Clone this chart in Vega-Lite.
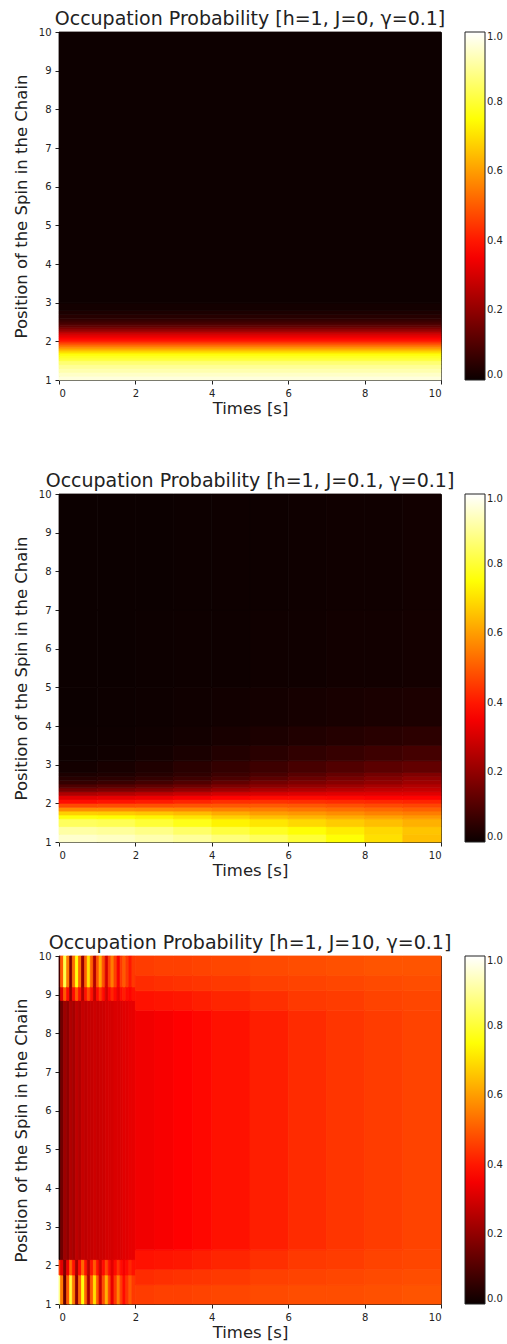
{
  "$schema": "https://vega.github.io/schema/vega-lite/v6.json",
  "background": "white",
  "padding": {"left": 12, "top": 9, "right": 0, "bottom": 0},
  "spacing": 114,
  "bounds": "flush",
  "config": {
    "font": "DejaVu Sans",
    "view": {"stroke": "#222", "strokeWidth": 1},
    "axis": {"grid": false, "domain": false, "tickColor": "#222", "tickSize": 4, "labelColor": "#222", "labelFontSize": 10, "labelPadding": 4, "titleFontSize": 16.5, "titleFontWeight": "normal", "titleColor": "#222"},
    "axisY": {"titlePadding": 9},
    "axisX": {"titlePadding": 2},
    "title": {"fontSize": 19, "fontWeight": "normal", "color": "#222", "frame": "group", "anchor": "middle", "baseline": "alphabetic", "offset": -2},
    "legend": {"orient": "none", "legendX": 406, "legendY": 0, "direction": "vertical", "gradientLength": 348, "gradientThickness": 20, "labelFontSize": 10, "labelOffset": 6, "labelColor": "#222", "labelFlush": false, "gradientStrokeColor": "#222", "gradientStrokeWidth": 1, "padding": 0, "labelOverlap": false}
  },
  "datasets": {
    "a": [
      {"t":0,"u":10,"y":1,"z":1.1,"v":0.965},
      {"t":0,"u":10,"y":1.1,"z":1.2,"v":0.945},
      {"t":0,"u":10,"y":1.2,"z":1.3,"v":0.92},
      {"t":0,"u":10,"y":1.3,"z":1.4,"v":0.895},
      {"t":0,"u":10,"y":1.4,"z":1.5,"v":0.86},
      {"t":0,"u":10,"y":1.5,"z":1.55,"v":0.81},
      {"t":0,"u":10,"y":1.55,"z":1.6,"v":0.79},
      {"t":0,"u":10,"y":1.6,"z":1.65,"v":0.77},
      {"t":0,"u":10,"y":1.65,"z":1.7,"v":0.74},
      {"t":0,"u":10,"y":1.7,"z":1.75,"v":0.7},
      {"t":0,"u":10,"y":1.75,"z":1.8,"v":0.65},
      {"t":0,"u":10,"y":1.8,"z":1.85,"v":0.6},
      {"t":0,"u":10,"y":1.85,"z":1.9,"v":0.55},
      {"t":0,"u":10,"y":1.9,"z":1.95,"v":0.5},
      {"t":0,"u":10,"y":1.95,"z":2.0,"v":0.45},
      {"t":0,"u":10,"y":2.0,"z":2.05,"v":0.4},
      {"t":0,"u":10,"y":2.05,"z":2.1,"v":0.37},
      {"t":0,"u":10,"y":2.1,"z":2.15,"v":0.34},
      {"t":0,"u":10,"y":2.15,"z":2.2,"v":0.31},
      {"t":0,"u":10,"y":2.2,"z":2.25,"v":0.27},
      {"t":0,"u":10,"y":2.25,"z":2.3,"v":0.22},
      {"t":0,"u":10,"y":2.3,"z":2.35,"v":0.18},
      {"t":0,"u":10,"y":2.35,"z":2.4,"v":0.14},
      {"t":0,"u":10,"y":2.4,"z":2.45,"v":0.11},
      {"t":0,"u":10,"y":2.45,"z":2.5,"v":0.09},
      {"t":0,"u":10,"y":2.5,"z":2.55,"v":0.07},
      {"t":0,"u":10,"y":2.55,"z":2.6,"v":0.055},
      {"t":0,"u":10,"y":2.6,"z":2.7,"v":0.04},
      {"t":0,"u":10,"y":2.7,"z":2.8,"v":0.025},
      {"t":0,"u":10,"y":2.8,"z":3.0,"v":0.012},
      {"t":0,"u":10,"y":3.0,"z":10,"v":0.003}
    ],
    "b": [
      {"t":0,"u":1,"y":1,"z":1.2,"v":0.95},{"t":1,"u":2,"y":1,"z":1.2,"v":0.94},{"t":2,"u":3,"y":1,"z":1.2,"v":0.92},{"t":3,"u":4,"y":1,"z":1.2,"v":0.9},{"t":4,"u":5,"y":1,"z":1.2,"v":0.87},{"t":5,"u":6,"y":1,"z":1.2,"v":0.84},{"t":6,"u":7,"y":1,"z":1.2,"v":0.8},{"t":7,"u":8,"y":1,"z":1.2,"v":0.75},{"t":8,"u":9,"y":1,"z":1.2,"v":0.7},{"t":9,"u":10,"y":1,"z":1.2,"v":0.65},
      {"t":0,"u":1,"y":1.2,"z":1.4,"v":0.91},{"t":1,"u":2,"y":1.2,"z":1.4,"v":0.9},{"t":2,"u":3,"y":1.2,"z":1.4,"v":0.88},{"t":3,"u":4,"y":1.2,"z":1.4,"v":0.85},{"t":4,"u":5,"y":1.2,"z":1.4,"v":0.81},{"t":5,"u":6,"y":1.2,"z":1.4,"v":0.78},{"t":6,"u":7,"y":1.2,"z":1.4,"v":0.75},{"t":7,"u":8,"y":1.2,"z":1.4,"v":0.72},{"t":8,"u":9,"y":1.2,"z":1.4,"v":0.69},{"t":9,"u":10,"y":1.2,"z":1.4,"v":0.66},
      {"t":0,"u":1,"y":1.4,"z":1.6,"v":0.84},{"t":1,"u":2,"y":1.4,"z":1.6,"v":0.83},{"t":2,"u":3,"y":1.4,"z":1.6,"v":0.8},{"t":3,"u":4,"y":1.4,"z":1.6,"v":0.77},{"t":4,"u":5,"y":1.4,"z":1.6,"v":0.73},{"t":5,"u":6,"y":1.4,"z":1.6,"v":0.71},{"t":6,"u":7,"y":1.4,"z":1.6,"v":0.69},{"t":7,"u":8,"y":1.4,"z":1.6,"v":0.67},{"t":8,"u":9,"y":1.4,"z":1.6,"v":0.65},{"t":9,"u":10,"y":1.4,"z":1.6,"v":0.63},
      {"t":0,"u":1,"y":1.6,"z":1.7,"v":0.755},{"t":1,"u":2,"y":1.6,"z":1.7,"v":0.745},{"t":2,"u":3,"y":1.6,"z":1.7,"v":0.73},{"t":3,"u":4,"y":1.6,"z":1.7,"v":0.705},{"t":4,"u":5,"y":1.6,"z":1.7,"v":0.675},{"t":5,"u":6,"y":1.6,"z":1.7,"v":0.65},{"t":6,"u":7,"y":1.6,"z":1.7,"v":0.635},{"t":7,"u":8,"y":1.6,"z":1.7,"v":0.62},{"t":8,"u":9,"y":1.6,"z":1.7,"v":0.605},{"t":9,"u":10,"y":1.6,"z":1.7,"v":0.59},
      {"t":0,"u":1,"y":1.7,"z":1.8,"v":0.675},{"t":1,"u":2,"y":1.7,"z":1.8,"v":0.67},{"t":2,"u":3,"y":1.7,"z":1.8,"v":0.66},{"t":3,"u":4,"y":1.7,"z":1.8,"v":0.645},{"t":4,"u":5,"y":1.7,"z":1.8,"v":0.62},{"t":5,"u":6,"y":1.7,"z":1.8,"v":0.6},{"t":6,"u":7,"y":1.7,"z":1.8,"v":0.59},{"t":7,"u":8,"y":1.7,"z":1.8,"v":0.575},{"t":8,"u":9,"y":1.7,"z":1.8,"v":0.56},{"t":9,"u":10,"y":1.7,"z":1.8,"v":0.55},
      {"t":0,"u":1,"y":1.8,"z":1.9,"v":0.575},{"t":1,"u":2,"y":1.8,"z":1.9,"v":0.575},{"t":2,"u":3,"y":1.8,"z":1.9,"v":0.57},{"t":3,"u":4,"y":1.8,"z":1.9,"v":0.565},{"t":4,"u":5,"y":1.8,"z":1.9,"v":0.555},{"t":5,"u":6,"y":1.8,"z":1.9,"v":0.55},{"t":6,"u":7,"y":1.8,"z":1.9,"v":0.54},{"t":7,"u":8,"y":1.8,"z":1.9,"v":0.53},{"t":8,"u":9,"y":1.8,"z":1.9,"v":0.52},{"t":9,"u":10,"y":1.8,"z":1.9,"v":0.51},
      {"t":0,"u":1,"y":1.9,"z":2.0,"v":0.475},{"t":1,"u":2,"y":1.9,"z":2.0,"v":0.48},{"t":2,"u":3,"y":1.9,"z":2.0,"v":0.485},{"t":3,"u":4,"y":1.9,"z":2.0,"v":0.49},{"t":4,"u":5,"y":1.9,"z":2.0,"v":0.495},{"t":5,"u":6,"y":1.9,"z":2.0,"v":0.5},{"t":6,"u":7,"y":1.9,"z":2.0,"v":0.495},{"t":7,"u":8,"y":1.9,"z":2.0,"v":0.485},{"t":8,"u":9,"y":1.9,"z":2.0,"v":0.475},{"t":9,"u":10,"y":1.9,"z":2.0,"v":0.47},
      {"t":0,"u":1,"y":2.0,"z":2.1,"v":0.385},{"t":1,"u":2,"y":2.0,"z":2.1,"v":0.395},{"t":2,"u":3,"y":2.0,"z":2.1,"v":0.405},{"t":3,"u":4,"y":2.0,"z":2.1,"v":0.42},{"t":4,"u":5,"y":2.0,"z":2.1,"v":0.435},{"t":5,"u":6,"y":2.0,"z":2.1,"v":0.44},{"t":6,"u":7,"y":2.0,"z":2.1,"v":0.435},{"t":7,"u":8,"y":2.0,"z":2.1,"v":0.43},{"t":8,"u":9,"y":2.0,"z":2.1,"v":0.425},{"t":9,"u":10,"y":2.0,"z":2.1,"v":0.42},
      {"t":0,"u":1,"y":2.1,"z":2.2,"v":0.325},{"t":1,"u":2,"y":2.1,"z":2.2,"v":0.33},{"t":2,"u":3,"y":2.1,"z":2.2,"v":0.34},{"t":3,"u":4,"y":2.1,"z":2.2,"v":0.355},{"t":4,"u":5,"y":2.1,"z":2.2,"v":0.37},{"t":5,"u":6,"y":2.1,"z":2.2,"v":0.38},{"t":6,"u":7,"y":2.1,"z":2.2,"v":0.38},{"t":7,"u":8,"y":2.1,"z":2.2,"v":0.375},{"t":8,"u":9,"y":2.1,"z":2.2,"v":0.37},{"t":9,"u":10,"y":2.1,"z":2.2,"v":0.37},
      {"t":0,"u":1,"y":2.2,"z":2.3,"v":0.245},{"t":1,"u":2,"y":2.2,"z":2.3,"v":0.255},{"t":2,"u":3,"y":2.2,"z":2.3,"v":0.27},{"t":3,"u":4,"y":2.2,"z":2.3,"v":0.285},{"t":4,"u":5,"y":2.2,"z":2.3,"v":0.3},{"t":5,"u":6,"y":2.2,"z":2.3,"v":0.31},{"t":6,"u":7,"y":2.2,"z":2.3,"v":0.315},{"t":7,"u":8,"y":2.2,"z":2.3,"v":0.32},{"t":8,"u":9,"y":2.2,"z":2.3,"v":0.32},{"t":9,"u":10,"y":2.2,"z":2.3,"v":0.32},
      {"t":0,"u":1,"y":2.3,"z":2.4,"v":0.16},{"t":1,"u":2,"y":2.3,"z":2.4,"v":0.17},{"t":2,"u":3,"y":2.3,"z":2.4,"v":0.185},{"t":3,"u":4,"y":2.3,"z":2.4,"v":0.205},{"t":4,"u":5,"y":2.3,"z":2.4,"v":0.225},{"t":5,"u":6,"y":2.3,"z":2.4,"v":0.245},{"t":6,"u":7,"y":2.3,"z":2.4,"v":0.255},{"t":7,"u":8,"y":2.3,"z":2.4,"v":0.265},{"t":8,"u":9,"y":2.3,"z":2.4,"v":0.275},{"t":9,"u":10,"y":2.3,"z":2.4,"v":0.28},
      {"t":0,"u":1,"y":2.4,"z":2.5,"v":0.1},{"t":1,"u":2,"y":2.4,"z":2.5,"v":0.11},{"t":2,"u":3,"y":2.4,"z":2.5,"v":0.125},{"t":3,"u":4,"y":2.4,"z":2.5,"v":0.145},{"t":4,"u":5,"y":2.4,"z":2.5,"v":0.17},{"t":5,"u":6,"y":2.4,"z":2.5,"v":0.19},{"t":6,"u":7,"y":2.4,"z":2.5,"v":0.205},{"t":7,"u":8,"y":2.4,"z":2.5,"v":0.22},{"t":8,"u":9,"y":2.4,"z":2.5,"v":0.235},{"t":9,"u":10,"y":2.4,"z":2.5,"v":0.25},
      {"t":0,"u":1,"y":2.5,"z":2.6,"v":0.062},{"t":1,"u":2,"y":2.5,"z":2.6,"v":0.07},{"t":2,"u":3,"y":2.5,"z":2.6,"v":0.085},{"t":3,"u":4,"y":2.5,"z":2.6,"v":0.105},{"t":4,"u":5,"y":2.5,"z":2.6,"v":0.13},{"t":5,"u":6,"y":2.5,"z":2.6,"v":0.155},{"t":6,"u":7,"y":2.5,"z":2.6,"v":0.17},{"t":7,"u":8,"y":2.5,"z":2.6,"v":0.185},{"t":8,"u":9,"y":2.5,"z":2.6,"v":0.2},{"t":9,"u":10,"y":2.5,"z":2.6,"v":0.22},
      {"t":0,"u":1,"y":2.6,"z":2.7,"v":0.04},{"t":1,"u":2,"y":2.6,"z":2.7,"v":0.046},{"t":2,"u":3,"y":2.6,"z":2.7,"v":0.058},{"t":3,"u":4,"y":2.6,"z":2.7,"v":0.075},{"t":4,"u":5,"y":2.6,"z":2.7,"v":0.095},{"t":5,"u":6,"y":2.6,"z":2.7,"v":0.12},{"t":6,"u":7,"y":2.6,"z":2.7,"v":0.14},{"t":7,"u":8,"y":2.6,"z":2.7,"v":0.16},{"t":8,"u":9,"y":2.6,"z":2.7,"v":0.18},{"t":9,"u":10,"y":2.6,"z":2.7,"v":0.2},
      {"t":0,"u":1,"y":2.7,"z":2.8,"v":0.025},{"t":1,"u":2,"y":2.7,"z":2.8,"v":0.03},{"t":2,"u":3,"y":2.7,"z":2.8,"v":0.04},{"t":3,"u":4,"y":2.7,"z":2.8,"v":0.055},{"t":4,"u":5,"y":2.7,"z":2.8,"v":0.075},{"t":5,"u":6,"y":2.7,"z":2.8,"v":0.095},{"t":6,"u":7,"y":2.7,"z":2.8,"v":0.115},{"t":7,"u":8,"y":2.7,"z":2.8,"v":0.135},{"t":8,"u":9,"y":2.7,"z":2.8,"v":0.155},{"t":9,"u":10,"y":2.7,"z":2.8,"v":0.175},
      {"t":0,"u":1,"y":2.8,"z":3.1,"v":0.012},{"t":1,"u":2,"y":2.8,"z":3.1,"v":0.02},{"t":2,"u":3,"y":2.8,"z":3.1,"v":0.03},{"t":3,"u":4,"y":2.8,"z":3.1,"v":0.045},{"t":4,"u":5,"y":2.8,"z":3.1,"v":0.06},{"t":5,"u":6,"y":2.8,"z":3.1,"v":0.075},{"t":6,"u":7,"y":2.8,"z":3.1,"v":0.09},{"t":7,"u":8,"y":2.8,"z":3.1,"v":0.105},{"t":8,"u":9,"y":2.8,"z":3.1,"v":0.12},{"t":9,"u":10,"y":2.8,"z":3.1,"v":0.13},
      {"t":0,"u":1,"y":3.1,"z":3.5,"v":0.005},{"t":1,"u":2,"y":3.1,"z":3.5,"v":0.008},{"t":2,"u":3,"y":3.1,"z":3.5,"v":0.014},{"t":3,"u":4,"y":3.1,"z":3.5,"v":0.022},{"t":4,"u":5,"y":3.1,"z":3.5,"v":0.035},{"t":5,"u":6,"y":3.1,"z":3.5,"v":0.045},{"t":6,"u":7,"y":3.1,"z":3.5,"v":0.055},{"t":7,"u":8,"y":3.1,"z":3.5,"v":0.065},{"t":8,"u":9,"y":3.1,"z":3.5,"v":0.075},{"t":9,"u":10,"y":3.1,"z":3.5,"v":0.085},
      {"t":0,"u":1,"y":3.5,"z":4,"v":0.003},{"t":1,"u":2,"y":3.5,"z":4,"v":0.005},{"t":2,"u":3,"y":3.5,"z":4,"v":0.008},{"t":3,"u":4,"y":3.5,"z":4,"v":0.012},{"t":4,"u":5,"y":3.5,"z":4,"v":0.02},{"t":5,"u":6,"y":3.5,"z":4,"v":0.026},{"t":6,"u":7,"y":3.5,"z":4,"v":0.032},{"t":7,"u":8,"y":3.5,"z":4,"v":0.038},{"t":8,"u":9,"y":3.5,"z":4,"v":0.044},{"t":9,"u":10,"y":3.5,"z":4,"v":0.05},
      {"t":0,"u":1,"y":4,"z":5,"v":0.002},{"t":1,"u":2,"y":4,"z":5,"v":0.003},{"t":2,"u":3,"y":4,"z":5,"v":0.005},{"t":3,"u":4,"y":4,"z":5,"v":0.007},{"t":4,"u":5,"y":4,"z":5,"v":0.01},{"t":5,"u":6,"y":4,"z":5,"v":0.013},{"t":6,"u":7,"y":4,"z":5,"v":0.016},{"t":7,"u":8,"y":4,"z":5,"v":0.019},{"t":8,"u":9,"y":4,"z":5,"v":0.022},{"t":9,"u":10,"y":4,"z":5,"v":0.025},
      {"t":0,"u":1,"y":5,"z":7,"v":0.002},{"t":1,"u":2,"y":5,"z":7,"v":0.002},{"t":2,"u":3,"y":5,"z":7,"v":0.003},{"t":3,"u":4,"y":5,"z":7,"v":0.004},{"t":4,"u":5,"y":5,"z":7,"v":0.005},{"t":5,"u":6,"y":5,"z":7,"v":0.007},{"t":6,"u":7,"y":5,"z":7,"v":0.008},{"t":7,"u":8,"y":5,"z":7,"v":0.01},{"t":8,"u":9,"y":5,"z":7,"v":0.011},{"t":9,"u":10,"y":5,"z":7,"v":0.013},
      {"t":0,"u":1,"y":7,"z":10,"v":0.002},{"t":1,"u":2,"y":7,"z":10,"v":0.002},{"t":2,"u":3,"y":7,"z":10,"v":0.002},{"t":3,"u":4,"y":7,"z":10,"v":0.003},{"t":4,"u":5,"y":7,"z":10,"v":0.004},{"t":5,"u":6,"y":7,"z":10,"v":0.005},{"t":6,"u":7,"y":7,"z":10,"v":0.006},{"t":7,"u":8,"y":7,"z":10,"v":0.007},{"t":8,"u":9,"y":7,"z":10,"v":0.008},{"t":9,"u":10,"y":7,"z":10,"v":0.01}
    ],
    "c": [
      {"t":0,"u":0.04,"y":1,"z":1.75,"v":0.88},{"t":0,"u":0.04,"y":1.75,"z":2.15,"v":0.45},{"t":0,"u":0.04,"y":2.15,"z":8.85,"v":0.02},{"t":0,"u":0.04,"y":8.85,"z":9.2,"v":0.05},{"t":0,"u":0.04,"y":9.2,"z":10,"v":0.08},
      {"t":0.04,"u":0.12,"y":1,"z":1.75,"v":0.55},{"t":0.04,"u":0.12,"y":1.75,"z":2.15,"v":0.32},{"t":0.04,"u":0.12,"y":2.15,"z":8.85,"v":0.15},{"t":0.04,"u":0.12,"y":8.85,"z":9.2,"v":0.32},{"t":0.04,"u":0.12,"y":9.2,"z":10,"v":0.5},
      {"t":0.12,"u":0.2,"y":1,"z":1.75,"v":0.14},{"t":0.12,"u":0.2,"y":1.75,"z":2.15,"v":0.18},{"t":0.12,"u":0.2,"y":2.15,"z":8.85,"v":0.22},{"t":0.12,"u":0.2,"y":8.85,"z":9.2,"v":0.5},{"t":0.12,"u":0.2,"y":9.2,"z":10,"v":0.82},
      {"t":0.2,"u":0.28,"y":1,"z":1.75,"v":0.5},{"t":0.2,"u":0.28,"y":1.75,"z":2.15,"v":0.34},{"t":0.2,"u":0.28,"y":2.15,"z":8.85,"v":0.2},{"t":0.2,"u":0.28,"y":8.85,"z":9.2,"v":0.38},{"t":0.2,"u":0.28,"y":9.2,"z":10,"v":0.55},
      {"t":0.28,"u":0.35,"y":1,"z":1.75,"v":0.8},{"t":0.28,"u":0.35,"y":1.75,"z":2.15,"v":0.52},{"t":0.28,"u":0.35,"y":2.15,"z":8.85,"v":0.25},{"t":0.28,"u":0.35,"y":8.85,"z":9.2,"v":0.21},{"t":0.28,"u":0.35,"y":9.2,"z":10,"v":0.17},
      {"t":0.35,"u":0.43,"y":1,"z":1.75,"v":0.55},{"t":0.35,"u":0.43,"y":1.75,"z":2.15,"v":0.39},{"t":0.35,"u":0.43,"y":2.15,"z":8.85,"v":0.23},{"t":0.35,"u":0.43,"y":8.85,"z":9.2,"v":0.38},{"t":0.35,"u":0.43,"y":9.2,"z":10,"v":0.53},
      {"t":0.43,"u":0.51,"y":1,"z":1.75,"v":0.19},{"t":0.43,"u":0.51,"y":1.75,"z":2.15,"v":0.23},{"t":0.43,"u":0.51,"y":2.15,"z":8.85,"v":0.27},{"t":0.43,"u":0.51,"y":8.85,"z":9.2,"v":0.5},{"t":0.43,"u":0.51,"y":9.2,"z":10,"v":0.76},
      {"t":0.51,"u":0.59,"y":1,"z":1.75,"v":0.52},{"t":0.51,"u":0.59,"y":1.75,"z":2.15,"v":0.38},{"t":0.51,"u":0.59,"y":2.15,"z":8.85,"v":0.25},{"t":0.51,"u":0.59,"y":8.85,"z":9.2,"v":0.39},{"t":0.51,"u":0.59,"y":9.2,"z":10,"v":0.53},
      {"t":0.59,"u":0.67,"y":1,"z":1.75,"v":0.76},{"t":0.59,"u":0.67,"y":1.75,"z":2.15,"v":0.52},{"t":0.59,"u":0.67,"y":2.15,"z":8.85,"v":0.28},{"t":0.59,"u":0.67,"y":8.85,"z":9.2,"v":0.25},{"t":0.59,"u":0.67,"y":9.2,"z":10,"v":0.21},
      {"t":0.67,"u":0.74,"y":1,"z":1.75,"v":0.52},{"t":0.67,"u":0.74,"y":1.75,"z":2.15,"v":0.39},{"t":0.67,"u":0.74,"y":2.15,"z":8.85,"v":0.27},{"t":0.67,"u":0.74,"y":8.85,"z":9.2,"v":0.39},{"t":0.67,"u":0.74,"y":9.2,"z":10,"v":0.51},
      {"t":0.74,"u":0.82,"y":1,"z":1.75,"v":0.23},{"t":0.74,"u":0.82,"y":1.75,"z":2.15,"v":0.26},{"t":0.74,"u":0.82,"y":2.15,"z":8.85,"v":0.28},{"t":0.74,"u":0.82,"y":8.85,"z":9.2,"v":0.48},{"t":0.74,"u":0.82,"y":9.2,"z":10,"v":0.7},
      {"t":0.82,"u":0.9,"y":1,"z":1.75,"v":0.5},{"t":0.82,"u":0.9,"y":1.75,"z":2.15,"v":0.39},{"t":0.82,"u":0.9,"y":2.15,"z":8.85,"v":0.28},{"t":0.82,"u":0.9,"y":8.85,"z":9.2,"v":0.39},{"t":0.82,"u":0.9,"y":9.2,"z":10,"v":0.51},
      {"t":0.9,"u":0.98,"y":1,"z":1.75,"v":0.7},{"t":0.9,"u":0.98,"y":1.75,"z":2.15,"v":0.5},{"t":0.9,"u":0.98,"y":2.15,"z":8.85,"v":0.29},{"t":0.9,"u":0.98,"y":8.85,"z":9.2,"v":0.27},{"t":0.9,"u":0.98,"y":9.2,"z":10,"v":0.25},
      {"t":0.98,"u":1.05,"y":1,"z":1.75,"v":0.5},{"t":0.98,"u":1.05,"y":1.75,"z":2.15,"v":0.39},{"t":0.98,"u":1.05,"y":2.15,"z":8.85,"v":0.28},{"t":0.98,"u":1.05,"y":8.85,"z":9.2,"v":0.38},{"t":0.98,"u":1.05,"y":9.2,"z":10,"v":0.49},
      {"t":1.05,"u":1.13,"y":1,"z":1.75,"v":0.28},{"t":1.05,"u":1.13,"y":1.75,"z":2.15,"v":0.29},{"t":1.05,"u":1.13,"y":2.15,"z":8.85,"v":0.29},{"t":1.05,"u":1.13,"y":8.85,"z":9.2,"v":0.45},{"t":1.05,"u":1.13,"y":9.2,"z":10,"v":0.62},
      {"t":1.13,"u":1.21,"y":1,"z":1.75,"v":0.48},{"t":1.13,"u":1.21,"y":1.75,"z":2.15,"v":0.38},{"t":1.13,"u":1.21,"y":2.15,"z":8.85,"v":0.29},{"t":1.13,"u":1.21,"y":8.85,"z":9.2,"v":0.38},{"t":1.13,"u":1.21,"y":9.2,"z":10,"v":0.48},
      {"t":1.21,"u":1.29,"y":1,"z":1.75,"v":0.63},{"t":1.21,"u":1.29,"y":1.75,"z":2.15,"v":0.47},{"t":1.21,"u":1.29,"y":2.15,"z":8.85,"v":0.3},{"t":1.21,"u":1.29,"y":8.85,"z":9.2,"v":0.3},{"t":1.21,"u":1.29,"y":9.2,"z":10,"v":0.3},
      {"t":1.29,"u":1.36,"y":1,"z":1.75,"v":0.46},{"t":1.29,"u":1.36,"y":1.75,"z":2.15,"v":0.38},{"t":1.29,"u":1.36,"y":2.15,"z":8.85,"v":0.3},{"t":1.29,"u":1.36,"y":8.85,"z":9.2,"v":0.37},{"t":1.29,"u":1.36,"y":9.2,"z":10,"v":0.46},
      {"t":1.36,"u":1.44,"y":1,"z":1.75,"v":0.33},{"t":1.36,"u":1.44,"y":1.75,"z":2.15,"v":0.32},{"t":1.36,"u":1.44,"y":2.15,"z":8.85,"v":0.3},{"t":1.36,"u":1.44,"y":8.85,"z":9.2,"v":0.42},{"t":1.36,"u":1.44,"y":9.2,"z":10,"v":0.55},
      {"t":1.44,"u":1.52,"y":1,"z":1.75,"v":0.45},{"t":1.44,"u":1.52,"y":1.75,"z":2.15,"v":0.38},{"t":1.44,"u":1.52,"y":2.15,"z":8.85,"v":0.31},{"t":1.44,"u":1.52,"y":8.85,"z":9.2,"v":0.38},{"t":1.44,"u":1.52,"y":9.2,"z":10,"v":0.46},
      {"t":1.52,"u":1.6,"y":1,"z":1.75,"v":0.56},{"t":1.52,"u":1.6,"y":1.75,"z":2.15,"v":0.44},{"t":1.52,"u":1.6,"y":2.15,"z":8.85,"v":0.31},{"t":1.52,"u":1.6,"y":8.85,"z":9.2,"v":0.33},{"t":1.52,"u":1.6,"y":9.2,"z":10,"v":0.35},
      {"t":1.6,"u":1.67,"y":1,"z":1.75,"v":0.45},{"t":1.6,"u":1.67,"y":1.75,"z":2.15,"v":0.38},{"t":1.6,"u":1.67,"y":2.15,"z":8.85,"v":0.31},{"t":1.6,"u":1.67,"y":8.85,"z":9.2,"v":0.38},{"t":1.6,"u":1.67,"y":9.2,"z":10,"v":0.45},
      {"t":1.67,"u":1.75,"y":1,"z":1.75,"v":0.38},{"t":1.67,"u":1.75,"y":1.75,"z":2.15,"v":0.35},{"t":1.67,"u":1.75,"y":2.15,"z":8.85,"v":0.32},{"t":1.67,"u":1.75,"y":8.85,"z":9.2,"v":0.41},{"t":1.67,"u":1.75,"y":9.2,"z":10,"v":0.5},
      {"t":1.75,"u":1.83,"y":1,"z":1.75,"v":0.44},{"t":1.75,"u":1.83,"y":1.75,"z":2.15,"v":0.38},{"t":1.75,"u":1.83,"y":2.15,"z":8.85,"v":0.32},{"t":1.75,"u":1.83,"y":8.85,"z":9.2,"v":0.38},{"t":1.75,"u":1.83,"y":9.2,"z":10,"v":0.45},
      {"t":1.83,"u":1.91,"y":1,"z":1.75,"v":0.5},{"t":1.83,"u":1.91,"y":1.75,"z":2.15,"v":0.42},{"t":1.83,"u":1.91,"y":2.15,"z":8.85,"v":0.33},{"t":1.83,"u":1.91,"y":8.85,"z":9.2,"v":0.37},{"t":1.83,"u":1.91,"y":9.2,"z":10,"v":0.4},
      {"t":1.91,"u":2,"y":1,"z":1.75,"v":0.45},{"t":1.91,"u":2,"y":1.75,"z":2.15,"v":0.39},{"t":1.91,"u":2,"y":2.15,"z":8.85,"v":0.33},{"t":1.91,"u":2,"y":8.85,"z":9.2,"v":0.39},{"t":1.91,"u":2,"y":9.2,"z":10,"v":0.45},
      {"t":2,"u":2.5,"y":1,"z":1.5,"v":0.455},{"t":2,"u":2.5,"y":1.5,"z":1.9,"v":0.43},{"t":2,"u":2.5,"y":1.9,"z":2.4,"v":0.39},{"t":2,"u":2.5,"y":2.4,"z":8.6,"v":0.345},{"t":2,"u":2.5,"y":8.6,"z":9.1,"v":0.39},{"t":2,"u":2.5,"y":9.1,"z":9.5,"v":0.43},{"t":2,"u":2.5,"y":9.5,"z":10,"v":0.455},
      {"t":2.5,"u":3,"y":1,"z":1.5,"v":0.46},{"t":2.5,"u":3,"y":1.5,"z":1.9,"v":0.435},{"t":2.5,"u":3,"y":1.9,"z":2.4,"v":0.395},{"t":2.5,"u":3,"y":2.4,"z":8.6,"v":0.355},{"t":2.5,"u":3,"y":8.6,"z":9.1,"v":0.395},{"t":2.5,"u":3,"y":9.1,"z":9.5,"v":0.435},{"t":2.5,"u":3,"y":9.5,"z":10,"v":0.46},
      {"t":3,"u":3.5,"y":1,"z":1.5,"v":0.46},{"t":3,"u":3.5,"y":1.5,"z":1.9,"v":0.44},{"t":3,"u":3.5,"y":1.9,"z":2.4,"v":0.4},{"t":3,"u":3.5,"y":2.4,"z":8.6,"v":0.365},{"t":3,"u":3.5,"y":8.6,"z":9.1,"v":0.4},{"t":3,"u":3.5,"y":9.1,"z":9.5,"v":0.44},{"t":3,"u":3.5,"y":9.5,"z":10,"v":0.46},
      {"t":3.5,"u":4,"y":1,"z":1.5,"v":0.465},{"t":3.5,"u":4,"y":1.5,"z":1.9,"v":0.445},{"t":3.5,"u":4,"y":1.9,"z":2.4,"v":0.41},{"t":3.5,"u":4,"y":2.4,"z":8.6,"v":0.375},{"t":3.5,"u":4,"y":8.6,"z":9.1,"v":0.41},{"t":3.5,"u":4,"y":9.1,"z":9.5,"v":0.445},{"t":3.5,"u":4,"y":9.5,"z":10,"v":0.465},
      {"t":4,"u":5,"y":1,"z":1.5,"v":0.47},{"t":4,"u":5,"y":1.5,"z":1.9,"v":0.45},{"t":4,"u":5,"y":1.9,"z":2.4,"v":0.42},{"t":4,"u":5,"y":2.4,"z":8.6,"v":0.39},{"t":4,"u":5,"y":8.6,"z":9.1,"v":0.42},{"t":4,"u":5,"y":9.1,"z":9.5,"v":0.45},{"t":4,"u":5,"y":9.5,"z":10,"v":0.47},
      {"t":5,"u":6,"y":1,"z":1.5,"v":0.475},{"t":5,"u":6,"y":1.5,"z":1.9,"v":0.46},{"t":5,"u":6,"y":1.9,"z":2.4,"v":0.435},{"t":5,"u":6,"y":2.4,"z":8.6,"v":0.41},{"t":5,"u":6,"y":8.6,"z":9.1,"v":0.435},{"t":5,"u":6,"y":9.1,"z":9.5,"v":0.46},{"t":5,"u":6,"y":9.5,"z":10,"v":0.475},
      {"t":6,"u":7,"y":1,"z":1.5,"v":0.48},{"t":6,"u":7,"y":1.5,"z":1.9,"v":0.465},{"t":6,"u":7,"y":1.9,"z":2.4,"v":0.45},{"t":6,"u":7,"y":2.4,"z":8.6,"v":0.43},{"t":6,"u":7,"y":8.6,"z":9.1,"v":0.45},{"t":6,"u":7,"y":9.1,"z":9.5,"v":0.465},{"t":6,"u":7,"y":9.5,"z":10,"v":0.48},
      {"t":7,"u":8,"y":1,"z":1.5,"v":0.48},{"t":7,"u":8,"y":1.5,"z":1.9,"v":0.47},{"t":7,"u":8,"y":1.9,"z":2.4,"v":0.455},{"t":7,"u":8,"y":2.4,"z":8.6,"v":0.445},{"t":7,"u":8,"y":8.6,"z":9.1,"v":0.455},{"t":7,"u":8,"y":9.1,"z":9.5,"v":0.47},{"t":7,"u":8,"y":9.5,"z":10,"v":0.485},
      {"t":8,"u":9,"y":1,"z":1.5,"v":0.485},{"t":8,"u":9,"y":1.5,"z":1.9,"v":0.475},{"t":8,"u":9,"y":1.9,"z":2.4,"v":0.465},{"t":8,"u":9,"y":2.4,"z":8.6,"v":0.455},{"t":8,"u":9,"y":8.6,"z":9.1,"v":0.465},{"t":8,"u":9,"y":9.1,"z":9.5,"v":0.475},{"t":8,"u":9,"y":9.5,"z":10,"v":0.49},
      {"t":9,"u":10,"y":1,"z":1.5,"v":0.49},{"t":9,"u":10,"y":1.5,"z":1.9,"v":0.48},{"t":9,"u":10,"y":1.9,"z":2.4,"v":0.47},{"t":9,"u":10,"y":2.4,"z":8.6,"v":0.465},{"t":9,"u":10,"y":8.6,"z":9.1,"v":0.47},{"t":9,"u":10,"y":9.1,"z":9.5,"v":0.48},{"t":9,"u":10,"y":9.5,"z":10,"v":0.49}
    ]
  },
  "vconcat": [
    {
      "title": "Occupation Probability [h=1, J=0, γ=0.1]",
      "width": 382, "height": 348,
      "data": {"name": "a"},
      "mark": {"type": "rect", "strokeWidth": 0.8},
      "encoding": {
        "x": {"field": "t", "type": "quantitative", "scale": {"domain": [0, 10], "nice": false}, "axis": {"values": [0, 2, 4, 6, 8, 10], "title": "Times [s]"}},
        "x2": {"field": "u"},
        "y": {"field": "y", "type": "quantitative", "scale": {"domain": [1, 10], "nice": false}, "axis": {"values": [1, 2, 3, 4, 5, 6, 7, 8, 9, 10], "title": "Position of the Spin in the Chain"}},
        "y2": {"field": "z"},
        "color": {"field": "v", "type": "quantitative", "scale": {"type": "linear", "domain": [0, 0.365079, 0.746032, 1], "range": ["#0b0000", "#ff0000", "#ffff00", "#ffffff"], "interpolate": "rgb"}, "legend": {"type": "gradient", "title": null, "values": [0, 0.2, 0.4, 0.6, 0.8, 1], "format": ".1f", "gradientLength": 348, "gradientThickness": 20, "labelFlush": false}},
        "stroke": {"field": "v", "type": "quantitative", "scale": {"type": "linear", "domain": [0, 0.365079, 0.746032, 1.000001], "range": ["#0b0000", "#ff0000", "#ffff00", "#ffffff"], "interpolate": "rgb"}, "legend": null}
      }
    },
    {
      "title": "Occupation Probability [h=1, J=0.1, γ=0.1]",
      "width": 382, "height": 348,
      "data": {"name": "b"},
      "mark": {"type": "rect", "strokeWidth": 0.8},
      "encoding": {
        "x": {"field": "t", "type": "quantitative", "scale": {"domain": [0, 10], "nice": false}, "axis": {"values": [0, 2, 4, 6, 8, 10], "title": "Times [s]"}},
        "x2": {"field": "u"},
        "y": {"field": "y", "type": "quantitative", "scale": {"domain": [1, 10], "nice": false}, "axis": {"values": [1, 2, 3, 4, 5, 6, 7, 8, 9, 10], "title": "Position of the Spin in the Chain"}},
        "y2": {"field": "z"},
        "color": {"field": "v", "type": "quantitative", "scale": {"type": "linear", "domain": [0, 0.365079, 0.746032, 1], "range": ["#0b0000", "#ff0000", "#ffff00", "#ffffff"], "interpolate": "rgb"}, "legend": {"type": "gradient", "title": null, "values": [0, 0.2, 0.4, 0.6, 0.8, 1], "format": ".1f", "gradientLength": 348, "gradientThickness": 20, "labelFlush": false}},
        "stroke": {"field": "v", "type": "quantitative", "scale": {"type": "linear", "domain": [0, 0.365079, 0.746032, 1.000001], "range": ["#0b0000", "#ff0000", "#ffff00", "#ffffff"], "interpolate": "rgb"}, "legend": null}
      }
    },
    {
      "title": "Occupation Probability [h=1, J=10, γ=0.1]",
      "width": 382, "height": 348,
      "data": {"name": "c"},
      "mark": {"type": "rect", "strokeWidth": 0.8},
      "encoding": {
        "x": {"field": "t", "type": "quantitative", "scale": {"domain": [0, 10], "nice": false}, "axis": {"values": [0, 2, 4, 6, 8, 10], "title": "Times [s]"}},
        "x2": {"field": "u"},
        "y": {"field": "y", "type": "quantitative", "scale": {"domain": [1, 10], "nice": false}, "axis": {"values": [1, 2, 3, 4, 5, 6, 7, 8, 9, 10], "title": "Position of the Spin in the Chain"}},
        "y2": {"field": "z"},
        "color": {"field": "v", "type": "quantitative", "scale": {"type": "linear", "domain": [0, 0.365079, 0.746032, 1], "range": ["#0b0000", "#ff0000", "#ffff00", "#ffffff"], "interpolate": "rgb"}, "legend": {"type": "gradient", "title": null, "values": [0, 0.2, 0.4, 0.6, 0.8, 1], "format": ".1f", "gradientLength": 348, "gradientThickness": 20, "labelFlush": false}},
        "stroke": {"field": "v", "type": "quantitative", "scale": {"type": "linear", "domain": [0, 0.365079, 0.746032, 1.000001], "range": ["#0b0000", "#ff0000", "#ffff00", "#ffffff"], "interpolate": "rgb"}, "legend": null}
      }
    }
  ],
  "resolve": {"scale": {"color": "independent", "stroke": "independent"}, "legend": {"color": "independent"}}
}
